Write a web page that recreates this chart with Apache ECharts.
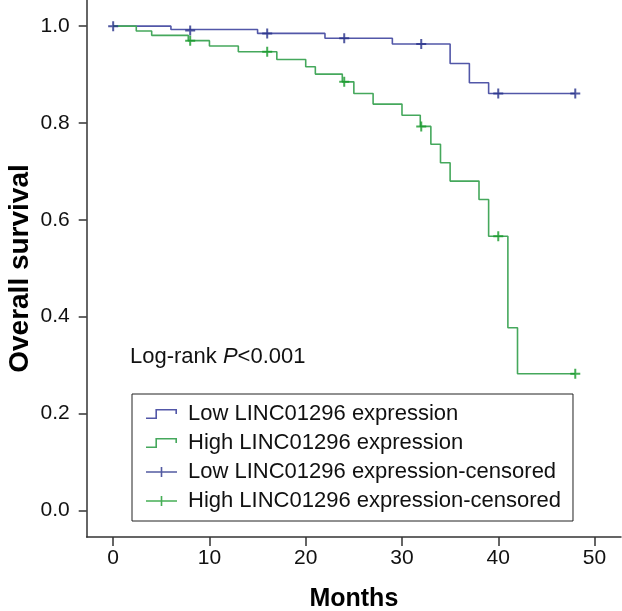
<!DOCTYPE html>
<html>
<head>
<meta charset="utf-8">
<script src="https://cdn.jsdelivr.net/npm/echarts@6/dist/echarts.min.js"></script>
<style>
  html, body { margin: 0; padding: 0; background: #fff; }
  #chart { width: 622px; height: 611px; }
</style>
</head>
<body>
<div id="chart"></div>
<script>
// ---- Data ----
const xTicks = [0, 10, 20, 30, 40, 50];
const yTicks = [0, 0.2, 0.4, 0.6, 0.8, 1.0];

const lowTimes = [0, 6, 15, 22, 29, 35, 37, 39, 48];
const lowSurv  = [1.0, 0.993, 0.985, 0.975, 0.963, 0.923, 0.883, 0.861, 0.861];

const highTimes = [0, 2.4, 4, 7.8, 10, 13, 17, 20, 21, 23.8, 25, 27, 30, 31.9, 33, 34, 35, 38, 39, 41, 42, 48];
const highSurv  = [1.0, 0.990, 0.981, 0.970, 0.959, 0.947, 0.931, 0.916, 0.901, 0.885, 0.861, 0.839, 0.816, 0.793, 0.756, 0.718, 0.680, 0.642, 0.566, 0.377, 0.282, 0.282];

const lowCensorTimes = [0, 8, 16, 24, 32, 40, 48];
const lowCensorSurv  = [1.0, 0.991, 0.985, 0.975, 0.963, 0.861, 0.861];

const highCensorTimes = [8, 16, 24, 32, 40, 48];
const highCensorSurv  = [0.970, 0.947, 0.885, 0.793, 0.566, 0.282];

const seriesNames = [
  'Low LINC01296 expression',
  'High LINC01296 expression',
  'Low LINC01296 expression-censored',
  'High LINC01296 expression-censored'
];

const zip = (a, b) => a.map((v, i) => [v, b[i]]);

// ---- Styles ----
const FONT = 'Liberation Sans, Arial, Helvetica, sans-serif';
const lowLine = '#5257a8';
const highLine = '#45a85c';
const lowCens = '#27318a';
const highCens = '#169a2a';

const plusPath = 'path://M4,0 h2 v4 h4 v2 h-4 v4 h-2 v-4 h-4 v-2 h4 z';
const stepIcon = 'path://M0,8.4 h11 v1.6 h-11 z M9.4,0 h1.6 v10 h-1.6 z M9.4,0 h21.6 v1.6 h-21.6 z M29.4,0 h1.6 v5 h-1.6 z';
const censIcon = 'path://M0,4.2 h31 v1.6 h-31 z M14.7,0 h1.6 v10 h-1.6 z';

const chart = echarts.init(document.getElementById('chart'), null, { renderer: 'canvas' });

const option = {
  animation: false,
  backgroundColor: '#ffffff',
  textStyle: { fontFamily: FONT },
  title: {
    left: 130,
    top: 346,
    text: '{a|Log-rank }{b|P}{a|<0.001}',
    textStyle: {
      fontWeight: 'normal',
      rich: {
        a: { fontFamily: FONT, fontSize: 22, color: '#111', fontWeight: 'normal' },
        b: { fontFamily: FONT, fontSize: 22, color: '#111', fontWeight: 'normal', fontStyle: 'italic' }
      }
    },
    padding: 0
  },
  grid: { left: 86.7, right: 1, top: 0, bottom: 74, containLabel: false, outerBoundsMode: 'none' },
  xAxis: {
    type: 'value',
    min: -2.75,
    max: 52.75,
    name: 'Months',
    nameLocation: 'middle',
    nameGap: 50,
    nameMoveOverlap: false,
    nameTextStyle: { fontFamily: FONT, fontSize: 25, fontWeight: 'bold', color: '#000' },
    splitLine: { show: false },
    axisLine: { show: true, onZero: false, lineStyle: { color: '#333', width: 1.5 } },
    axisTick: { show: true, inside: false, length: 9, customValues: xTicks, lineStyle: { color: '#333', width: 1.5 } },
    axisLabel: { customValues: xTicks, margin: 11, fontFamily: FONT, fontSize: 21, color: '#111' }
  },
  yAxis: {
    type: 'value',
    min: -0.055,
    max: 1.054,
    name: 'Overall survival',
    nameLocation: 'middle',
    nameGap: 52,
    nameMoveOverlap: false,
    nameRotate: 90,
    nameTextStyle: { fontFamily: FONT, fontSize: 28, fontWeight: 'bold', color: '#000' },
    splitLine: { show: false },
    axisLine: { show: true, onZero: false, lineStyle: { color: '#333', width: 1.5 } },
    axisTick: { show: true, inside: false, length: 8, customValues: yTicks, lineStyle: { color: '#333', width: 1.5 } },
    axisLabel: {
      customValues: yTicks, margin: 17, fontFamily: FONT, fontSize: 21, color: '#111',
      formatter: v => v.toFixed(1)
    }
  },
  legend: {
    orient: 'vertical',
    left: 132,
    top: 394,
    padding: [9, 12, 9, 14],
    itemWidth: 31,
    itemHeight: 10,
    itemGap: 7,
    borderColor: '#222',
    borderWidth: 1,
    backgroundColor: '#fff',
    selectedMode: false,
    textStyle: { fontFamily: FONT, fontSize: 22, color: '#111', lineHeight: 22, padding: [0, 0, 0, 6] },
    data: [
      { name: seriesNames[0], icon: stepIcon },
      { name: seriesNames[1], icon: stepIcon },
      { name: seriesNames[2], icon: censIcon },
      { name: seriesNames[3], icon: censIcon }
    ]
  },
  series: [
    {
      name: seriesNames[0],
      type: 'line',
      step: 'end',
      color: lowLine,
      showSymbol: false,
      symbol: 'none',
      lineStyle: { color: lowLine, width: 1.6 },
      data: zip(lowTimes, lowSurv),
      z: 2
    },
    {
      name: seriesNames[1],
      type: 'line',
      step: 'end',
      color: highLine,
      showSymbol: false,
      symbol: 'none',
      lineStyle: { color: highLine, width: 1.6 },
      data: zip(highTimes, highSurv),
      z: 2
    },
    {
      name: seriesNames[2],
      type: 'scatter',
      color: lowCens,
      symbol: plusPath,
      symbolSize: 10,
      itemStyle: { color: lowCens },
      data: zip(lowCensorTimes, lowCensorSurv),
      z: 3
    },
    {
      name: seriesNames[3],
      type: 'scatter',
      color: highCens,
      symbol: plusPath,
      symbolSize: 10,
      itemStyle: { color: highCens },
      data: zip(highCensorTimes, highCensorSurv),
      z: 3
    }
  ]
};

chart.setOption(option);
</script>
</body>
</html>
